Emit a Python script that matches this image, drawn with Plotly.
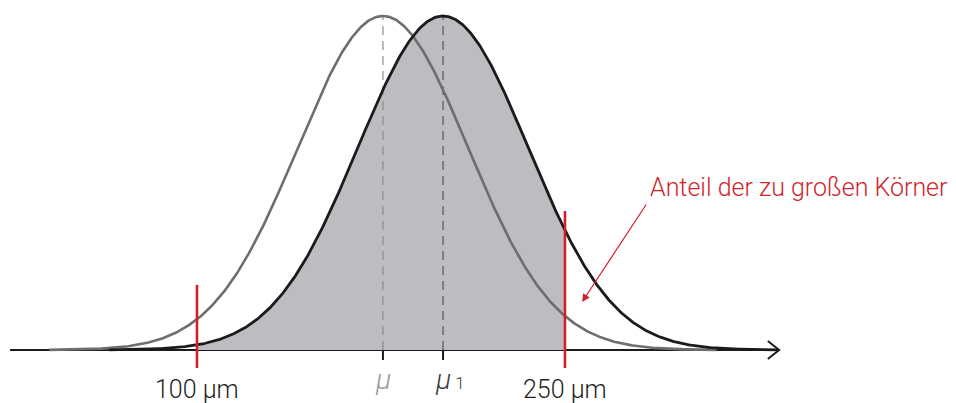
import numpy as np
import plotly.graph_objects as go

# parameters (micrometres)
mu0 = 175.8      # original mean (grey curve)
mu1 = 200.3      # shifted mean (black curve)
sigma = 34.7
span = 3.92      # curves drawn over +/- span*sigma
lower_limit = 100
upper_limit = 250
limit_labels = ["100 µm", "250 µm"]
mean_labels = ["<i>µ</i>", "<i>µ</i><span style='font-size:17px'> 1</span>"]
red_tops = [0.195, 0.416]   # top of red limit markers (peak = 1)
red_bottom = -0.054
annot_text = "Anteil der zu großen Körner"

axis_start, axis_end = 23.8, 337.3
x_range = [19.7, 409.4]
y_range = [-0.1587, 1.0479]

RED = "#d21f2e"
GREY = "#6d6e70"
BLACK = "#1d1a1b"
FILL = "#bcbdc0"

def curve(mu, x):
    return np.exp(-0.5 * ((x - mu) / sigma) ** 2)

x0 = np.linspace(mu0 - span * sigma, mu0 + span * sigma, 600)
x1 = np.linspace(mu1 - span * sigma, mu1 + span * sigma, 600)
xf = np.linspace(lower_limit, upper_limit, 400)

fig = go.Figure()
# axis line
fig.add_shape(type="line", x0=axis_start, x1=axis_end, y0=0, y1=0,
              line=dict(color=BLACK, width=2), layer="below")
ax_dx, ax_dy = 4.6, 0.027
fig.add_shape(type="path",
              path=f"M {axis_end-ax_dx},{ax_dy} L {axis_end},0 L {axis_end-ax_dx},{-ax_dy}",
              line=dict(color=BLACK, width=2), layer="below")

# shaded area
fig.add_trace(go.Scatter(x=np.concatenate([[lower_limit], xf, [upper_limit]]),
                         y=np.concatenate([[0], curve(mu1, xf), [0]]),
                         fill="toself", fillcolor=FILL, line=dict(width=0),
                         mode="lines", hoverinfo="skip"))
# dashed mean lines
for m, c in [(mu0, "#8c8c8c"), (mu1, "#555555")]:
    fig.add_trace(go.Scatter(x=[m, m], y=[0, 1], mode="lines",
                             line=dict(color=c, width=1.2, dash="9px,6px"),
                             hoverinfo="skip"))
    fig.add_trace(go.Scatter(x=[m, m], y=[0, -0.03], mode="lines",
                             line=dict(color=BLACK, width=2), hoverinfo="skip"))
# curves
fig.add_trace(go.Scatter(x=x0, y=curve(mu0, x0), mode="lines",
                         line=dict(color=GREY, width=2.6), hoverinfo="skip"))
fig.add_trace(go.Scatter(x=x1, y=curve(mu1, x1), mode="lines",
                         line=dict(color=BLACK, width=2.8), hoverinfo="skip"))
# red limit lines
for xl, top in zip([lower_limit, upper_limit], red_tops):
    fig.add_trace(go.Scatter(x=[xl, xl], y=[red_bottom, top], mode="lines",
                             line=dict(color=RED, width=2.6), hoverinfo="skip"))

font = dict(family="Roboto", size=25, color="#231f20", weight=300)
for xl, lab in zip([lower_limit, upper_limit], limit_labels):
    fig.add_annotation(x=xl, y=-0.117, text=lab, showarrow=False,
                       font=font, xanchor="center", yanchor="middle")
fig.add_annotation(x=mu0, y=-0.088, text=mean_labels[0], showarrow=False,
                   font=dict(family="Roboto", size=28, color="#9a9a9a", weight=300),
                   xanchor="center", yanchor="middle")
fig.add_annotation(x=mu1, y=-0.088, text=mean_labels[1], showarrow=False,
                   font=dict(family="Roboto", size=28, color="#3c3c3c", weight=300),
                   xanchor="left", yanchor="middle", xshift=-10)

# red annotation with arrow
fig.add_annotation(x=257.0, y=0.144, ax=283.5, ay=0.44, axref="x", ayref="y",
                   text="", showarrow=True, arrowhead=2, arrowsize=1.3,
                   arrowwidth=1.2, arrowcolor=RED)
fig.add_annotation(x=406.9, y=0.488, text=annot_text, showarrow=False,
                   xanchor="right", yanchor="middle",
                   font=dict(family="Roboto", size=25, color=RED, weight=300))

fig.update_layout(width=956, height=403, margin=dict(l=0, r=0, t=0, b=0),
                  paper_bgcolor="white", plot_bgcolor="white", showlegend=False,
                  xaxis=dict(range=x_range, visible=False, fixedrange=True),
                  yaxis=dict(range=y_range, visible=False, fixedrange=True))
fig.write_html("out.html", config={"displayModeBar": False},
               post_script="document.body.style.margin='0px';")
